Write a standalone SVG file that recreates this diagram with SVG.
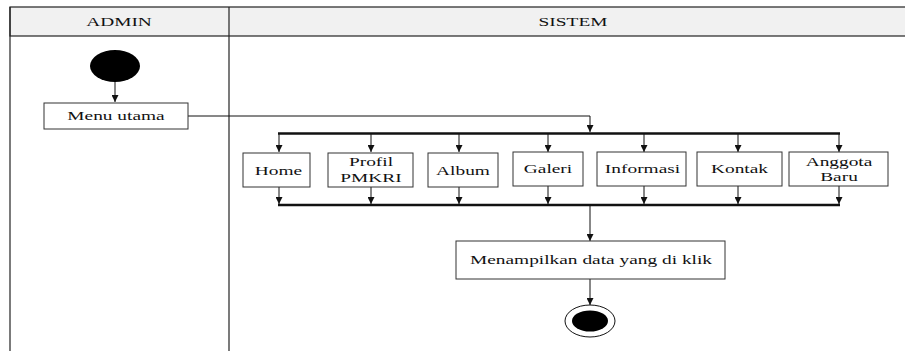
<svg xmlns="http://www.w3.org/2000/svg" width="905" height="351" viewBox="0 0 905 351">
<style>
.lane{fill:none;stroke:#222;stroke-width:1.2}
.hdr{fill:#f1f1f1;stroke:#222;stroke-width:1.2}
.box{fill:#fff;stroke:#333;stroke-width:1}
text{font-family:'Liberation Serif',serif;font-size:12.5px;fill:#111;text-anchor:middle}
.ln{fill:none;stroke:#111;stroke-width:1}
.bar{fill:none;stroke:#111;stroke-width:2.5}
</style>
<defs>
<marker id="ah" markerWidth="8" markerHeight="7" refX="7" refY="3.5" orient="auto" markerUnits="userSpaceOnUse">
<path d="M0,0 L7,3.5 L0,7 z" fill="#111"/>
</marker>
</defs>
<g id="swimlanes">
<rect class="hdr" x="10" y="7" width="900" height="29"/>
<line class="lane" x1="10" y1="7" x2="10" y2="351"/>
<line class="lane" x1="229" y1="7" x2="229" y2="351"/>
<text transform="translate(119,26) scale(1.55,1)">ADMIN</text>
<text transform="translate(573,26) scale(1.55,1)">SISTEM</text>
</g>
<g id="connectors">
<line class="ln" x1="115" y1="82" x2="115" y2="102" marker-end="url(#ah)"/>
<polyline class="ln" points="188,116 590,116 590,132" marker-end="url(#ah)"/>
<line class="bar" x1="278" y1="133.5" x2="840" y2="133.5"/>
<line class="ln" x1="279" y1="134" x2="279" y2="152" marker-end="url(#ah)"/>
<line class="ln" x1="371" y1="134" x2="371" y2="152" marker-end="url(#ah)"/>
<line class="ln" x1="459" y1="134" x2="459" y2="152" marker-end="url(#ah)"/>
<line class="ln" x1="548" y1="134" x2="548" y2="152" marker-end="url(#ah)"/>
<line class="ln" x1="644" y1="134" x2="644" y2="152" marker-end="url(#ah)"/>
<line class="ln" x1="738" y1="134" x2="738" y2="152" marker-end="url(#ah)"/>
<line class="ln" x1="839" y1="134" x2="839" y2="152" marker-end="url(#ah)"/>
<line class="ln" x1="279" y1="187" x2="279" y2="204" marker-end="url(#ah)"/>
<line class="ln" x1="371" y1="187" x2="371" y2="204" marker-end="url(#ah)"/>
<line class="ln" x1="459" y1="187" x2="459" y2="204" marker-end="url(#ah)"/>
<line class="ln" x1="548" y1="186" x2="548" y2="204" marker-end="url(#ah)"/>
<line class="ln" x1="644" y1="186" x2="644" y2="204" marker-end="url(#ah)"/>
<line class="ln" x1="738" y1="186" x2="738" y2="204" marker-end="url(#ah)"/>
<line class="ln" x1="839" y1="186" x2="839" y2="204" marker-end="url(#ah)"/>
<line class="bar" x1="278" y1="205" x2="840" y2="205"/>
<line class="ln" x1="590" y1="206" x2="590" y2="241" marker-end="url(#ah)"/>
<line class="ln" x1="590" y1="279" x2="590" y2="305" marker-end="url(#ah)"/>
</g>
<g id="start"><ellipse cx="115" cy="66" rx="25" ry="16" fill="#000"/></g>
<g id="menu-utama">
<rect class="box" x="44" y="103" width="144" height="26"/>
<text transform="translate(116,120) scale(1.55,1)">Menu utama</text>
</g>
<g id="home">
<rect class="box" x="243" y="153" width="67" height="34"/>
<text transform="translate(278.5,175) scale(1.55,1)">Home</text>
</g>
<g id="profil">
<rect class="box" x="328" y="153" width="85" height="34"/>
<text transform="translate(371,166) scale(1.55,1)">Profil</text>
<text transform="translate(371,182) scale(1.55,1)">PMKRI</text>
</g>
<g id="album">
<rect class="box" x="428" y="153" width="70" height="34"/>
<text transform="translate(463,175) scale(1.55,1)">Album</text>
</g>
<g id="galeri">
<rect class="box" x="513" y="152" width="70" height="34"/>
<text transform="translate(548,173) scale(1.55,1)">Galeri</text>
</g>
<g id="informasi">
<rect class="box" x="597" y="152" width="89" height="34"/>
<text transform="translate(642.5,173) scale(1.55,1)">Informasi</text>
</g>
<g id="kontak">
<rect class="box" x="697" y="152" width="85" height="34"/>
<text transform="translate(739.5,173) scale(1.55,1)">Kontak</text>
</g>
<g id="anggota-baru">
<rect class="box" x="789" y="152" width="99" height="34"/>
<text transform="translate(839,166) scale(1.55,1)">Anggota</text>
<text transform="translate(839,181) scale(1.55,1)">Baru</text>
</g>
<g id="menampilkan">
<rect class="box" x="456" y="241" width="269" height="38"/>
<text transform="translate(591,264) scale(1.55,1)">Menampilkan data yang di klik</text>
</g>
<g id="end">
<ellipse cx="590" cy="321" rx="25" ry="16" fill="#fff" stroke="#111" stroke-width="1"/>
<ellipse cx="590" cy="321" rx="18" ry="10.5" fill="#000"/>
</g>
</svg>
